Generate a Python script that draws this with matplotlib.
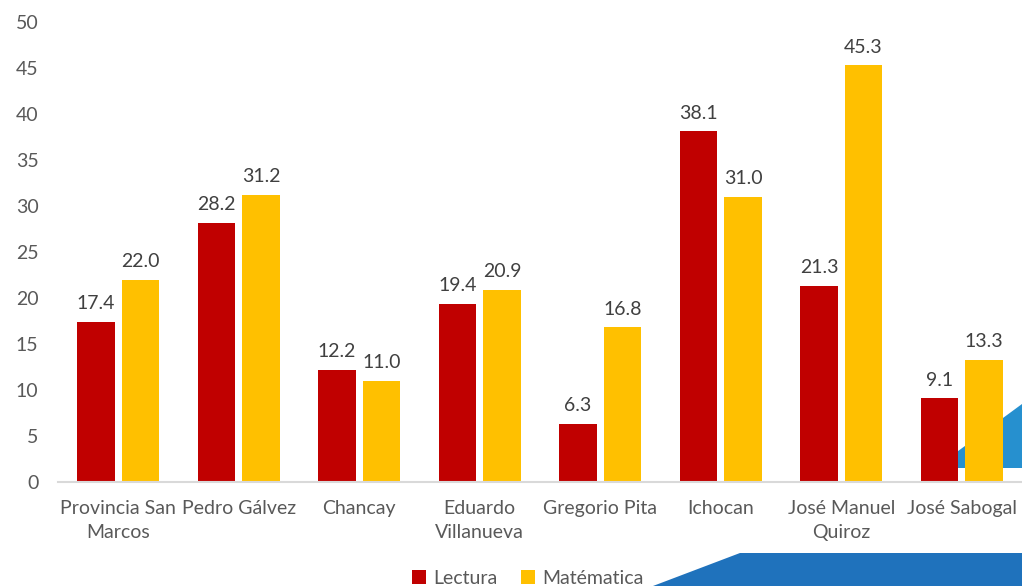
import matplotlib.pyplot as plt
import numpy as np
from matplotlib.patches import Polygon

plt.rcParams['font.family'] = ['Lato', 'DejaVu Sans']

# datos
distritos = ["Provincia San\nMarcos", "Pedro Gálvez", "Chancay", "Eduardo\nVillanueva",
             "Gregorio Pita", "Ichocan", "José Manuel\nQuiroz", "José Sabogal"]
lectura = [17.4, 28.2, 12.2, 19.4, 6.3, 38.1, 21.3, 9.1]
matematica = [22.0, 31.2, 11.0, 20.9, 16.8, 31.0, 45.3, 13.3]

W, H = 1022, 586
fig = plt.figure(figsize=(W / 100, H / 100), dpi=100)
ax = fig.add_axes([58 / W, (H - 482) / H, 1 - 58 / W, (482 - 22) / H])
ax.patch.set_alpha(0)
ax.set_zorder(1)

# formas azules de fondo (decoracion de la diapositiva)
def px(pts):
    return [(x / W, (H - y) / H) for x, y in pts]

fig.patches.append(Polygon(px([(935, 468), (1022, 404), (1022, 468)]),
                           closed=True, transform=fig.transFigure,
                           facecolor="#2690CF", edgecolor="none", zorder=-1))
fig.patches.append(Polygon(px([(653, 586), (740, 553), (1022, 553), (1022, 586)]),
                           closed=True, transform=fig.transFigure,
                           facecolor="#1F72BC", edgecolor="none", zorder=-1))

x = np.arange(len(distritos))
w = 0.31
b1 = ax.bar(x - 0.185, lectura, w, color="#C00000", label="Lectura", zorder=2)
b2 = ax.bar(x + 0.185, matematica, w, color="#FFC000", label="Matématica", zorder=2)

for bars, vals in [(b1, lectura), (b2, matematica)]:
    for r, v in zip(bars, vals):
        ax.annotate(f"{v:.1f}", (r.get_x() + r.get_width() / 2, v),
                    xytext=(0, 7), textcoords="offset points",
                    ha="center", va="bottom", fontsize=14, color="#404040")

ax.set_xlim(-0.5, len(distritos) - 0.5)
ax.set_ylim(0, 50)
ax.set_yticks(range(0, 51, 5))
ax.set_xticks(x)
ax.set_xticklabels(distritos, linespacing=1.5)
ax.tick_params(axis="both", length=0, labelsize=14, labelcolor="#595959")
ax.tick_params(axis="x", pad=13)
ax.tick_params(axis="y", pad=14)
for s in ["top", "right", "left"]:
    ax.spines[s].set_visible(False)
ax.spines["bottom"].set_color("#D9D9D9")
ax.spines["bottom"].set_linewidth(1.5)

fig.legend(handles=[b1, b2], loc="center", bbox_to_anchor=(528 / W, (H - 578) / H),
           ncol=2, frameon=False, fontsize=14, labelcolor="#595959",
           handlelength=0.7, handleheight=0.7, handletextpad=0.4, columnspacing=1.2)

fig.savefig("out.png", dpi=100)
